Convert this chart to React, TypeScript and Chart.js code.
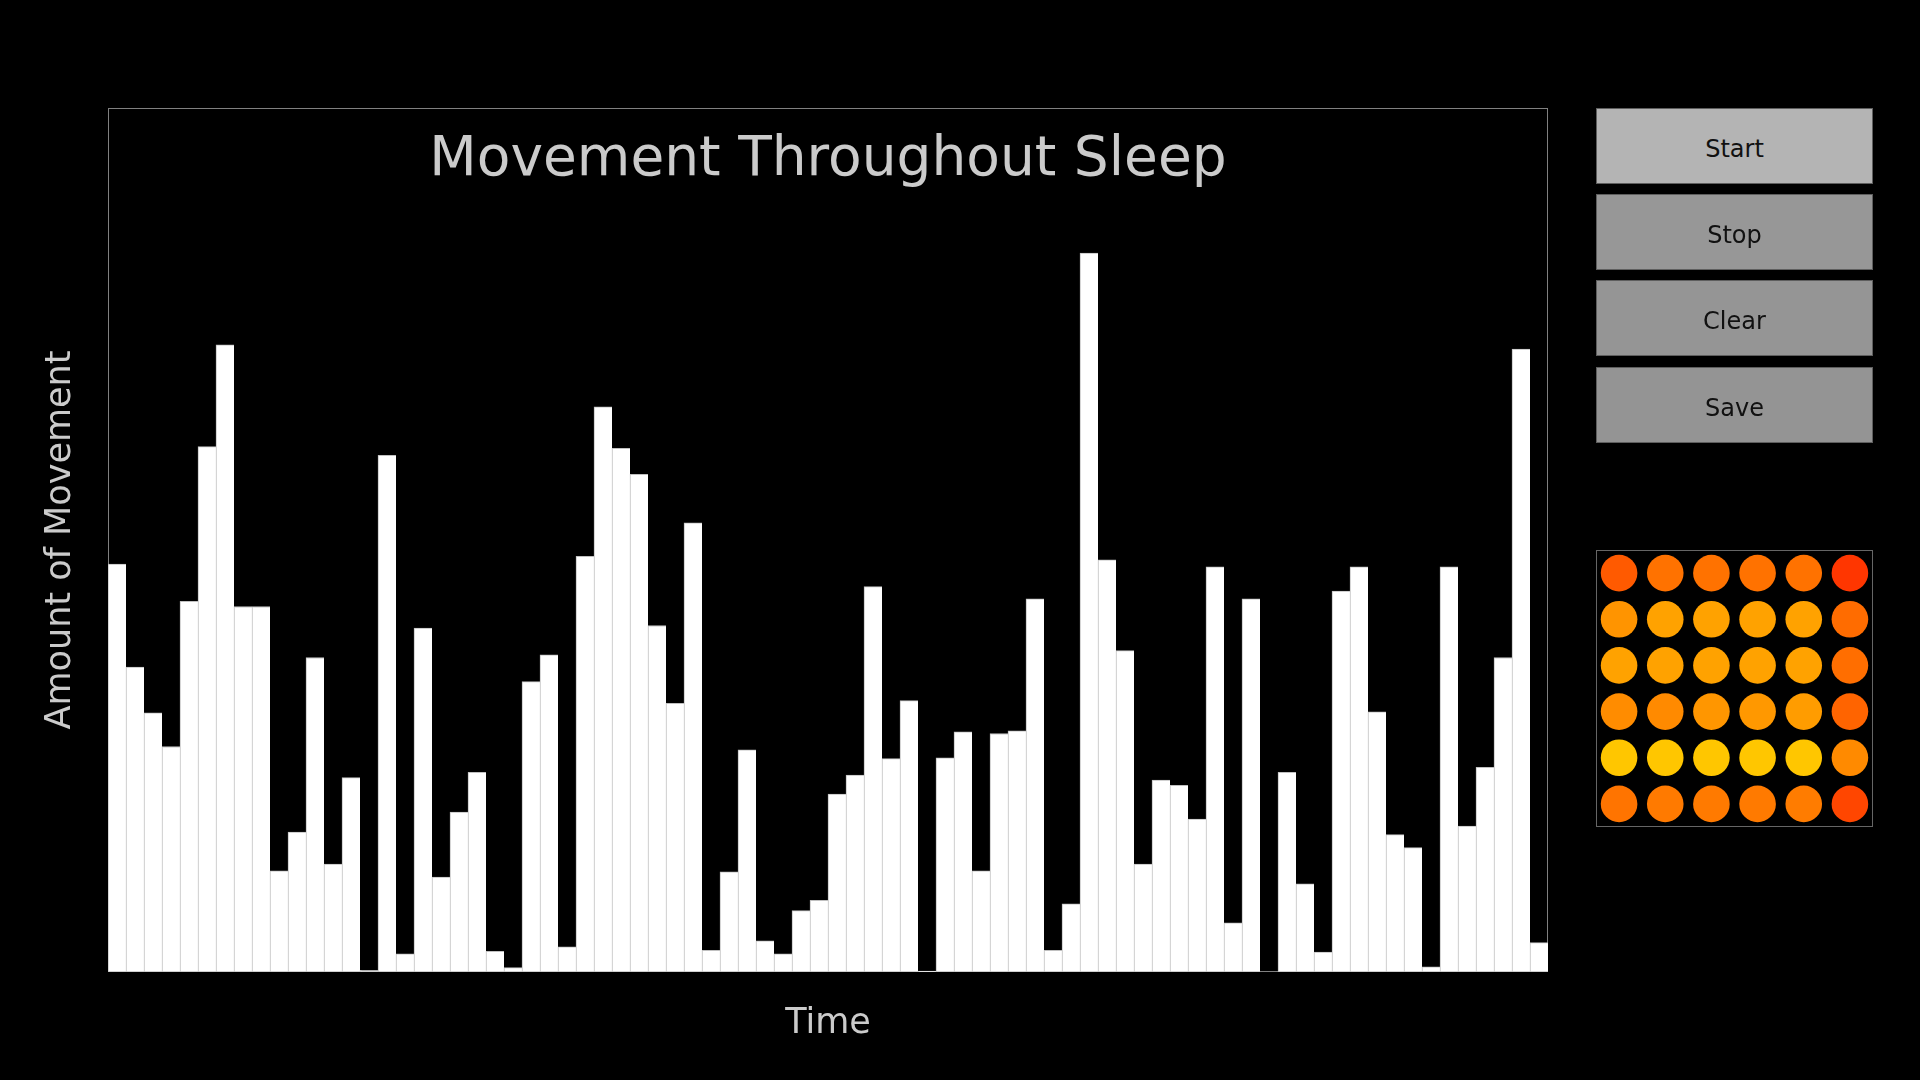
import React, { useEffect, useRef } from "react";
import { Chart, registerables } from "chart.js";

Chart.register(...registerables);

// ---- Data ----
const chartTitle = "Movement Throughout Sleep";
const xAxisTitle = "Time";
const yAxisTitle = "Amount of Movement";

const movement: number[] = [
  47.2, 35.3, 30.0, 26.1, 42.9, 60.8, 72.6, 42.3, 42.3, 11.7,
  16.2, 36.4, 12.5, 22.5, 0.2, 59.8, 2.1, 39.8, 11.0, 18.5,
  23.1, 2.4, 0.5, 33.6, 36.7, 2.9, 48.1, 65.4, 60.6, 57.6,
  40.1, 31.1, 52.0, 2.5, 11.6, 25.7, 3.6, 2.1, 7.1, 8.3,
  20.6, 22.8, 44.6, 24.7, 31.4, 0.1, 24.8, 27.8, 11.7, 27.6,
  27.9, 43.2, 2.5, 7.9, 83.2, 47.7, 37.2, 12.5, 22.2, 21.6,
  17.7, 46.9, 5.7, 43.2, 0.0, 23.1, 10.2, 2.3, 44.1, 46.9,
  30.1, 15.9, 14.4, 0.6, 46.9, 16.9, 23.7, 36.4, 72.1, 3.4,
];
const timeLabels: string[] = movement.map((_, i) => String(i + 1));
const yMin = 0;
const yMax = 100;

const buttonLabels = ["Start", "Stop", "Clear", "Save"];
const buttonColors = ["#b4b4b4", "#979797", "#959595", "#949494"];

const gridCols = [0, 1, 2, 3, 4, 5];
const gridRows = [0, 1, 2, 3, 4, 5];
const gridColors: string[][] = [
  ["#ff5a00", "#ff7200", "#ff7200", "#ff7200", "#ff7200", "#ff3600"],
  ["#ff9400", "#ffa200", "#ffa200", "#ffa200", "#ffa200", "#ff6c00"],
  ["#ffa200", "#ffa200", "#ffa200", "#ffa200", "#ffa200", "#ff6e00"],
  ["#ff8c00", "#ff8a00", "#ff9600", "#ff9800", "#ff9c00", "#ff6400"],
  ["#ffc600", "#ffc600", "#ffc600", "#ffc600", "#ffc600", "#ff8a00"],
  ["#ff7400", "#ff7a00", "#ff7a00", "#ff7a00", "#ff7c00", "#ff4600"],
];

const FONT = "'DejaVu Sans', sans-serif";
const TEXT_COLOR = "#cbcbcb";

const framePlugin = {
  id: "frameAndTitle",
  beforeDatasetsDraw(chart: any) {
    const { ctx, chartArea } = chart;
    ctx.save();
    ctx.strokeStyle = "#808080";
    ctx.lineWidth = 1;
    ctx.strokeRect(
      chartArea.left + 0.5,
      chartArea.top + 0.5,
      chartArea.right - chartArea.left - 1,
      chartArea.bottom - chartArea.top - 1
    );
    ctx.restore();
  },
  afterDraw(chart: any) {
    const { ctx, chartArea } = chart;
    ctx.save();
    ctx.fillStyle = TEXT_COLOR;
    ctx.font = `55px ${FONT}`;
    ctx.textAlign = "center";
    ctx.textBaseline = "alphabetic";
    ctx.fillText(chartTitle, (chartArea.left + chartArea.right) / 2, chartArea.top + 67);
    ctx.restore();
  },
};

function BarChart() {
  const ref = useRef<HTMLCanvasElement>(null);
  useEffect(() => {
    if (!ref.current) return;
    const chart = new Chart(ref.current, {
      type: "bar",
      data: {
        labels: timeLabels,
        datasets: [
          {
            data: movement,
            backgroundColor: "#ffffff",
            borderColor: "#c0c0c0",
            borderWidth: { top: 1, left: 1, right: 0, bottom: 1 } as any,
            borderSkipped: false,
            categoryPercentage: 1,
            barPercentage: 1,
          },
        ],
      },
      options: {
        responsive: false,
        animation: false,
        layout: { padding: { top: 108, right: 372, bottom: 0, left: 0 } },
        plugins: {
          legend: { display: false },
          tooltip: { enabled: false },
          title: { display: false },
        },
        scales: {
          x: {
            ticks: { display: false },
            grid: { display: false, drawTicks: false },
            border: { display: false },
            title: {
              display: true,
              text: xAxisTitle,
              color: TEXT_COLOR,
              font: { family: FONT, size: 35 },
              padding: { top: 0, bottom: 35 },
            },
            afterFit: (s: any) => {
              s.height = 108;
            },
          },
          y: {
            min: yMin,
            max: yMax,
            ticks: { display: false },
            grid: { display: false, drawTicks: false },
            border: { display: false },
            title: {
              display: true,
              text: yAxisTitle,
              color: TEXT_COLOR,
              font: { family: FONT, size: 35 },
              padding: { top: 40, bottom: 0 },
            },
            afterFit: (s: any) => {
              s.width = 108;
            },
          },
        },
      } as any,
      plugins: [framePlugin],
    });
    return () => chart.destroy();
  }, []);
  return (
    <canvas
      ref={ref}
      width={1920}
      height={1080}
      style={{ position: "absolute", left: 0, top: 0, width: 1920, height: 1080 }}
    />
  );
}

function DotGrid() {
  const ref = useRef<HTMLCanvasElement>(null);
  useEffect(() => {
    if (!ref.current) return;
    const points: { x: number; y: number }[] = [];
    const colors: string[] = [];
    gridRows.forEach((r) => {
      gridCols.forEach((c) => {
        points.push({ x: c, y: r });
        colors.push(gridColors[r][c]);
      });
    });
    const chart = new Chart(ref.current, {
      type: "scatter",
      data: {
        datasets: [
          {
            data: points,
            pointRadius: 18.3,
            pointHoverRadius: 18.3,
            pointBackgroundColor: colors,
            pointBorderWidth: 0,
            borderWidth: 0,
            clip: false,
          },
        ],
      },
      options: {
        responsive: false,
        animation: false,
        layout: { padding: 0, autoPadding: false },
        plugins: { legend: { display: false }, tooltip: { enabled: false } },
        scales: {
          x: { display: false, min: -0.5, max: 5.5 },
          y: { display: false, min: -0.5, max: 5.5, reverse: true },
        },
      } as any,
    });
    return () => chart.destroy();
  }, []);
  return (
    <>
      <div
        style={{
          position: "absolute",
          left: 1596,
          top: 550,
          width: 277,
          height: 277,
          boxSizing: "border-box",
          border: "1px solid #666666",
        }}
      />
      <canvas
        ref={ref}
        width={277}
        height={277}
        style={{ position: "absolute", left: 1596, top: 550, width: 277, height: 277 }}
      />
    </>
  );
}

export default function App() {
  const buttonTops = [108, 194, 280, 367];
  return (
    <div
      style={{
        position: "fixed",
        left: 0,
        top: 0,
        width: 1920,
        height: 1080,
        background: "#000000",
        overflow: "hidden",
      }}
    >
      <BarChart />
      {buttonLabels.map((label, i) => (
        <div
          key={label}
          style={{
            position: "absolute",
            left: 1596,
            top: buttonTops[i],
            width: 277,
            height: 76,
            boxSizing: "border-box",
            border: "1px solid #5e5e5e",
            background: buttonColors[i],
            color: "#111111",
            fontFamily: FONT,
            fontSize: 24,
            display: "flex",
            alignItems: "center",
            justifyContent: "center",
            paddingTop: 6,
          }}
        >
          {label}
        </div>
      ))}
      <DotGrid />
    </div>
  );
}
